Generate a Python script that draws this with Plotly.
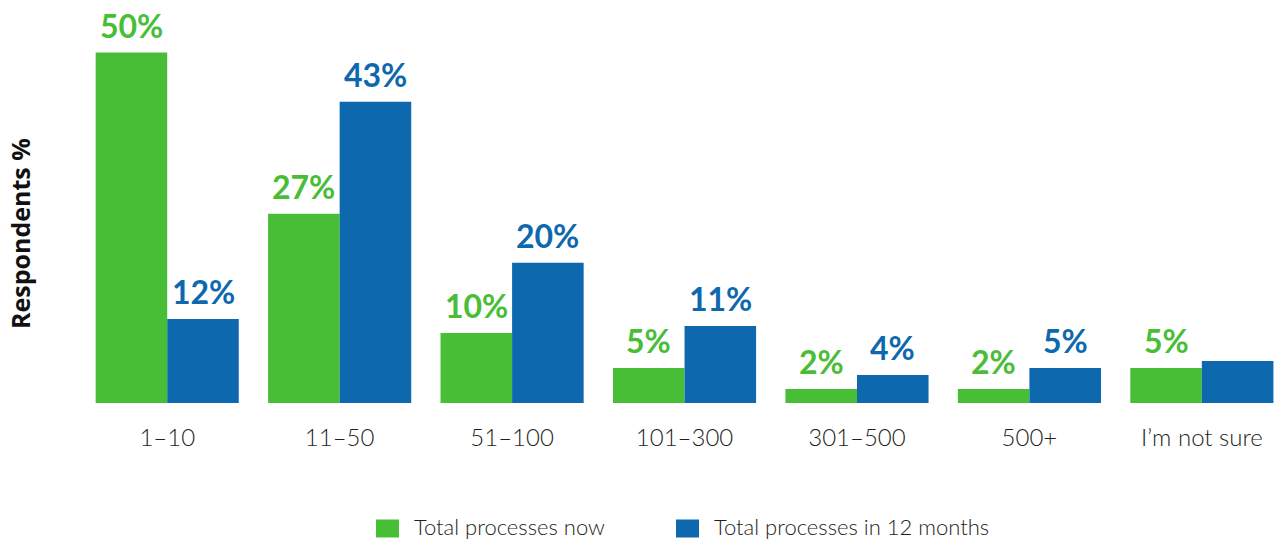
import plotly.graph_objects as go

categories = ["1–10", "11–50", "51–100", "101–300", "301–500", "500+", "I’m not sure"]
now_values = [50, 27, 10, 5, 2, 2, 5]
future_values = [12, 43, 20, 11, 4, 5, 6]
now_labels = ["50%", "27%", "10%", "5%", "2%", "2%", "5%"]
future_labels = ["12%", "43%", "20%", "11%", "4%", "5%", ""]
series_names = ["Total processes now", "Total processes in 12 months"]

GREEN = "#48BE37"
BLUE = "#0D68AE"
TEXT = "#231F20"

# plot-area geometry in pixels
L, T, W, H = 81, 0, 1195, 403
BAR_OFFSET = 35.8  # half a bar width, used to centre labels above grouped bars

fig = go.Figure()
for name, vals, col in [(series_names[0], now_values, GREEN),
                        (series_names[1], future_values, BLUE)]:
    fig.add_trace(go.Bar(
        x=categories, y=vals, name=name,
        marker=dict(color=col, line=dict(width=0)),
        showlegend=False,
    ))

# value labels above each bar
annotations = []
for vals, labels, col, shift in [(now_values, now_labels, GREEN, -BAR_OFFSET),
                                 (future_values, future_labels, BLUE, BAR_OFFSET)]:
    for c, v, t in zip(categories, vals, labels):
        if not t:
            continue
        annotations.append(dict(
            x=c, y=v, xref="x", yref="y", text=t, showarrow=False,
            xshift=shift, yshift=27, yanchor="middle",
            font=dict(family="Lato", size=32, color=col, weight="bold"),
        ))

# y-axis title
annotations.append(dict(
    text="<b>Respondents %</b>", textangle=-90, showarrow=False,
    xref="paper", yref="paper", x=(20 - L) / W, y=(H - 234) / H,
    xanchor="center", yanchor="middle",
    font=dict(family="Open Sans", size=25, color="#111111"),
))

# legend: swatches and labels
legend_items = [(series_names[0], GREEN, 376, 412), (series_names[1], BLUE, 676, 712)]
shapes = []
for name, col, sx, tx in legend_items:
    shapes.append(dict(
        type="rect", xref="paper", yref="paper",
        x0=(sx - L) / W, x1=(sx + 23 - L) / W,
        y0=(H - 537.5) / H, y1=(H - 519.5) / H,
        fillcolor=col, line=dict(width=0),
    ))
    annotations.append(dict(
        text=name, showarrow=False, xref="paper", yref="paper",
        x=(tx - L) / W, y=(H - 526.5) / H, xanchor="left", yanchor="middle",
        font=dict(family="Lato", size=22, color=TEXT, weight=300),
    ))

fig.update_layout(
    width=1276, height=541,
    margin=dict(l=L, r=0, t=T, b=541 - H),
    paper_bgcolor="white", plot_bgcolor="white",
    barmode="group", bargap=0.17, bargroupgap=0,
    font=dict(family="Lato", color=TEXT),
    showlegend=False,
    annotations=annotations,
    shapes=shapes,
    xaxis=dict(
        range=[-0.5, 6.43], showgrid=False, zeroline=False, showline=False,
        ticks="", ticklabelstandoff=18,
        tickfont=dict(family="Lato", size=24, color=TEXT, weight=300),
    ),
    yaxis=dict(
        range=[0, 57.5], showgrid=False, zeroline=False, showline=False,
        showticklabels=False, ticks="",
    ),
)

fig.write_html("out.html")
